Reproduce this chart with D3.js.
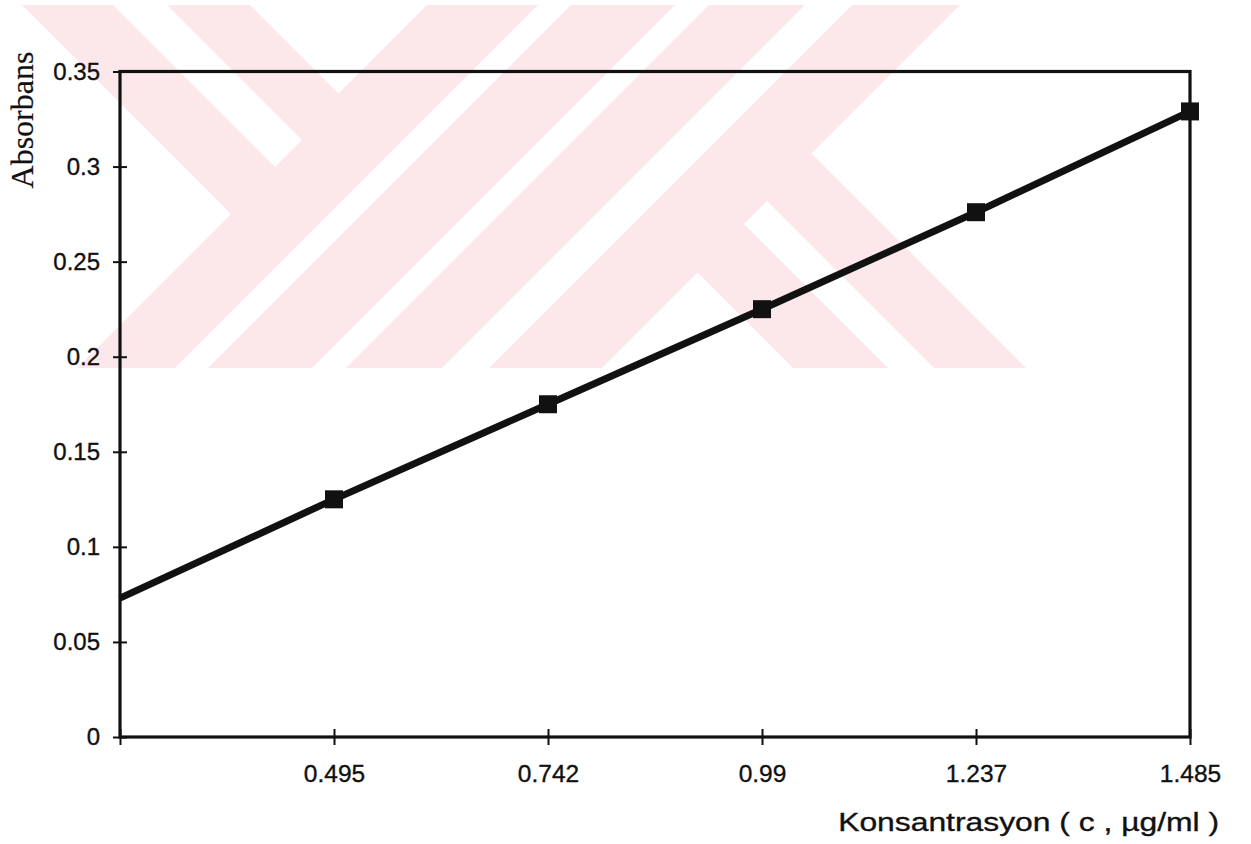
<!DOCTYPE html>
<html>
<head>
<meta charset="utf-8">
<script src="https://cdn.jsdelivr.net/npm/d3@7"></script>
<style>
  body { margin: 0; background: #fff; }
  svg { display: block; }
  text { font-family: "Liberation Sans", Arial, sans-serif; fill: #111; stroke: #111; stroke-width: 0.35px; }
</style>
</head>
<body>
<svg id="chart" width="1251" height="844"></svg>
<script>
// categories on the x axis (first slot is unlabeled)
var categories = ["", "0.495", "0.742", "0.99", "1.237", "1.485"];
// measured absorbance (markers)
var absorbance = [null, 0.125, 0.175, 0.225, 0.276, 0.329];
var lineValues = [0.073, 0.125, 0.175, 0.225, 0.276, 0.329];
var yTicks = [0, 0.05, 0.1, 0.15, 0.2, 0.25, 0.3, 0.35];
var yLabels = ["0", "0.05", "0.1", "0.15", "0.2", "0.25", "0.3", "0.35"];

var svg = d3.select("#chart");
var plotLeft = 120, plotRight = 1190, plotTop = 71.5, plotBottom = 737;
var ink = "#111";

// --- background watermark (pink band with white cut outs) ---
var wm = svg.append("g");
wm.append("clipPath").attr("id", "band")
  .append("rect").attr("x", 0).attr("y", 5).attr("width", 1251).attr("height", 363);
var wmg = wm.append("g").attr("clip-path", "url(#band)");
wmg.append("rect").attr("x", 0).attr("y", 5).attr("width", 1251).attr("height", 363)
  .attr("fill", "#fce7eb");
var cutouts = [
  [[231, 214], [-33, -50], [-200, -50], [-200, 450], [-5, 450]],
  [[58, -50], [112, -50], [302, 140], [275, 167]],
  [[195, -50], [482, -50], [338.5, 93.5]],
  [[593, -50], [626, -50], [126, 450], [93, 450]],
  [[730, -50], [764, -50], [264, 450], [230, 450]],
  [[860, -50], [907, -50], [407, 450], [360, 450]],
  [[811.5, 153.5], [1015, -50], [1300, -50], [1300, 450], [1108, 450]],
  [[767, 201], [744, 224], [970, 450], [1016, 450]],
  [[697.5, 272.5], [520, 450], [875, 450]]
];
wmg.selectAll("polygon").data(cutouts).enter().append("polygon")
  .attr("points", function(d) { return d.map(function(p) { return p.join(","); }).join(" "); })
  .attr("fill", "#fff");

// --- scales ---
var x = d3.scalePoint().domain(categories).range([plotLeft, plotRight]);
var y = d3.scaleLinear().domain([0, 0.35]).range([plotBottom, plotTop]);

// frame
svg.append("rect")
  .attr("x", plotLeft).attr("y", plotTop)
  .attr("width", plotRight - plotLeft).attr("height", plotBottom - plotTop)
  .attr("fill", "none").attr("stroke", ink).attr("stroke-width", 3.2);

// y axis
var yAxis = d3.axisLeft(y)
  .tickValues(yTicks)
  .tickFormat(function(d, i) { return yLabels[i]; })
  .tickSizeInner(7).tickSizeOuter(0).tickPadding(13);

svg.append("g")
  .attr("transform", "translate(" + plotLeft + ",0)")
  .call(yAxis)
  .call(function(g) { g.select(".domain").remove(); })
  .call(function(g) {
    g.selectAll(".tick line").attr("x1", 7).attr("stroke", ink).attr("stroke-width", 2);
    g.selectAll(".tick text").attr("font-size", 24).attr("font-family", null).attr("fill", ink);
  });

// x axis
var xAxis = d3.axisBottom(x).tickSizeInner(8).tickSizeOuter(0).tickPadding(20);
svg.append("g")
  .attr("transform", "translate(0," + plotBottom + ")")
  .call(xAxis)
  .call(function(g) { g.select(".domain").remove(); })
  .call(function(g) {
    g.selectAll(".tick line").attr("y1", -8).attr("stroke", ink).attr("stroke-width", 2);
    g.selectAll(".tick text").attr("font-size", 24.5).attr("font-family", null).attr("fill", ink);
  });

// line
var line = d3.line()
  .x(function(d, i) { return x(categories[i]); })
  .y(function(d) { return y(d); });

svg.append("path")
  .datum(lineValues)
  .attr("d", line)
  .attr("fill", "none")
  .attr("stroke", ink)
  .attr("stroke-width", 7)
  .attr("stroke-linejoin", "round");

// markers
var ms = 18;
svg.append("g").selectAll("rect")
  .data(absorbance.map(function(v, i) { return {c: categories[i], v: v}; })
    .filter(function(d) { return d.v !== null; }))
  .enter().append("rect")
  .attr("x", function(d) { return x(d.c) - ms / 2; })
  .attr("y", function(d) { return y(d.v) - ms / 2; })
  .attr("width", ms).attr("height", ms)
  .attr("fill", ink);

// axis titles
var xTitle = svg.append("text")
  .attr("x", 0).attr("y", 0)
  .attr("text-anchor", "end")
  .attr("font-size", 26)
  .text("Konsantrasyon ( c , \u00b5g/ml )");
// the scanned title is wider than the font, stretch it horizontally
var natural = xTitle.node().getComputedTextLength();
xTitle.attr("transform", "translate(1219,831) scale(" + (381 / natural) + ",1)");

svg.append("text")
  .attr("transform", "translate(33,120) rotate(-90)")
  .attr("text-anchor", "middle")
  .attr("font-size", 32)
  .style("font-family", "'Liberation Serif', 'Times New Roman', serif")
  .style("stroke-width", "0.2px")
  .text("Absorbans");
</script>
</body>
</html>
